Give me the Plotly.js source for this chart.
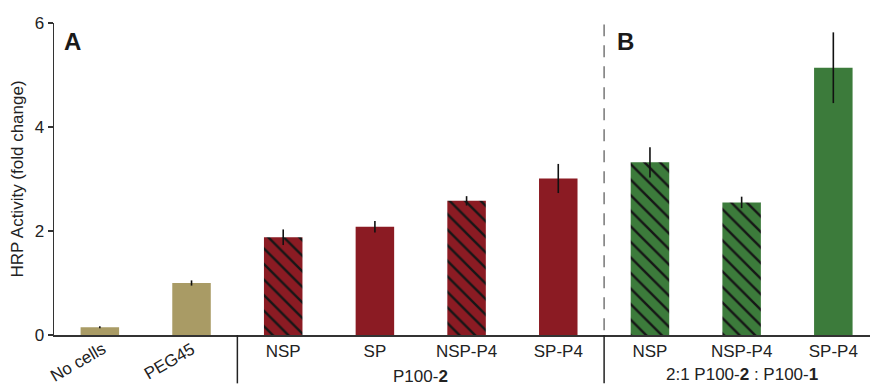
<!DOCTYPE html>
<html>
<head>
<meta charset="utf-8">
<script src="https://cdn.plot.ly/plotly-3.0.1.min.js"></script>
<style>html,body{margin:0;padding:0;background:#fff;}#chart{width:870px;height:388px;}</style>
</head>
<body>
<div id="chart"></div>
<script>
// Data
const labels = ["No cells", "PEG45", "NSP", "SP", "NSP-P4", "SP-P4", "NSP", "NSP-P4", "SP-P4"];
const values = [0.15, 1.0, 1.88, 2.08, 2.58, 3.01, 3.32, 2.55, 5.14];
const errors = [0.02, 0.05, 0.15, 0.11, 0.09, 0.28, 0.29, 0.11, 0.68];
const groups = ["control", "control", "P100-2", "P100-2", "P100-2", "P100-2", "mix", "mix", "mix"];
const hatched = [false, false, true, false, true, false, true, true, false];
const groupLabels = ["P100-<b>2</b>", "2:1 P100-<b>2</b> : P100-<b>1</b>"];
const yTicks = [0, 2, 4, 6];

const groupColors = {control: "#a99b65", "P100-2": "#8b1b23", mix: "#3c7b3b"};
const xs = labels.map((_, i) => i);
const rotated = [0, 1];

// one trace per (group, hatch) style so pattern colours are scalar
const styles = [];
groups.forEach((g, i) => {
  const key = g + "|" + hatched[i];
  if (!styles.includes(key)) styles.push(key);
});
const traces = styles.map(key => {
  const [g, h] = key.split("|");
  const idx = xs.filter(i => groups[i] === g && String(hatched[i]) === h);
  const isH = h === "true";
  return {
    type: "bar",
    x: idx.map(i => xs[i]),
    y: idx.map(i => values[i]),
    width: 0.42,
    marker: {
      color: groupColors[g],
      line: {width: 0},
      pattern: isH ? {shape: "\\", fgcolor: "#161616", bgcolor: groupColors[g], size: 11, solidity: 0.22, fillmode: "replace"} : {shape: ""}
    },
    error_y: {type: "data", array: idx.map(i => errors[i]), visible: true, color: "#111", thickness: 1.6, width: 0},
    hoverinfo: "skip"
  };
});

const font = {family: "Liberation Sans, Arial, sans-serif", size: 17, color: "#222"};

const annotations = [];
rotated.forEach(i => {
  annotations.push({
    x: xs[i] - 0.24, y: -0.005, xref: "x", yref: "paper",
    text: labels[i], showarrow: false, textangle: -30,
    xanchor: "center", yanchor: "top", font: font
  });
});
annotations.push({x: 3.5, y: -0.132, xref: "x", yref: "paper", text: groupLabels[0], showarrow: false, xanchor: "center", yanchor: "middle", font: font});
annotations.push({x: 7, y: -0.127, xref: "x", yref: "paper", text: groupLabels[1], showarrow: false, xanchor: "center", yanchor: "middle", font: font});
annotations.push({x: -0.3, y: 0.942, xref: "x", yref: "paper", text: "<b>A</b>", showarrow: false, xanchor: "center", yanchor: "middle", font: {family: font.family, size: 24, color: "#1a1a1a"}});
annotations.push({x: 5.73, y: 0.942, xref: "x", yref: "paper", text: "<b>B</b>", showarrow: false, xanchor: "center", yanchor: "middle", font: {family: font.family, size: 24, color: "#1a1a1a"}});

const shapes = [
  {type: "line", xref: "x", yref: "paper", x0: 1.5, x1: 1.5, y0: 0, y1: -0.155, line: {color: "#222", width: 1.5}},
  {type: "line", xref: "x", yref: "paper", x0: 5.5, x1: 5.5, y0: 0, y1: -0.155, line: {color: "#222", width: 1.5}},
  {type: "line", xref: "x", yref: "paper", x0: 5.5, x1: 5.5, y0: 0.015, y1: 0.995, line: {color: "#777", width: 1.5, dash: "12px,9px"}}
];

const layout = {
  width: 870, height: 388,
  margin: {l: 54, r: 0, t: 23, b: 53},
  paper_bgcolor: "#fff", plot_bgcolor: "#fff",
  showlegend: false,
  barmode: "overlay",
  font: font,
  xaxis: {
    range: [-0.5, 8.4],
    tickvals: xs,
    ticktext: labels.map((l, i) => rotated.includes(i) ? "" : l),
    ticks: "", showline: true, linecolor: "#333", linewidth: 1.5,
    showgrid: false, zeroline: false, tickfont: font, fixedrange: true
  },
  yaxis: {
    range: [0, 6], tickvals: yTicks, ticks: "outside", ticklen: 5, tickwidth: 1.5, tickcolor: "#333",
    showline: true, linecolor: "#333", linewidth: 1.5, showgrid: false, zeroline: false,
    tickfont: font,
    title: {text: "HRP Activity (fold change)", font: font, standoff: 6}
  },
  annotations: annotations,
  shapes: shapes
};

Plotly.newPlot("chart", traces, layout, {displayModeBar: false, staticPlot: true});
</script>
</body>
</html>
